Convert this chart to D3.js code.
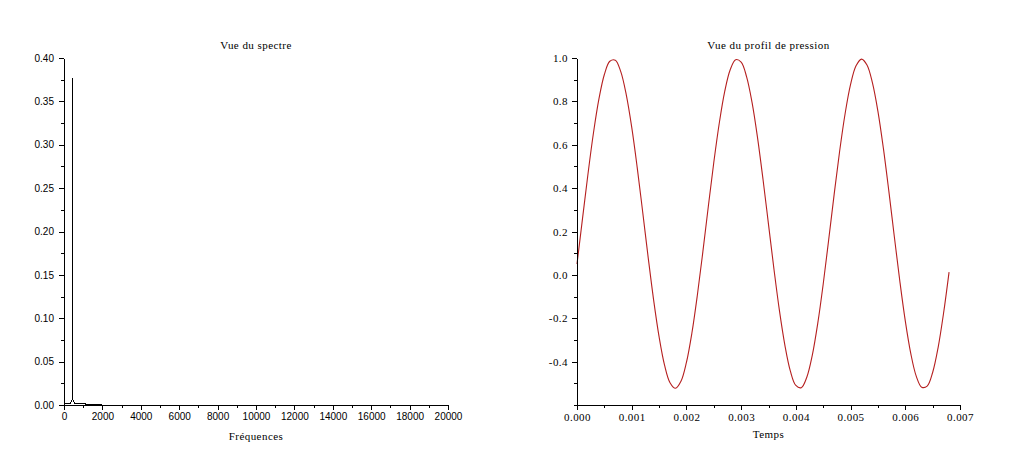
<!DOCTYPE html>
<html>
<head>
<meta charset="utf-8">
<script src="https://cdn.jsdelivr.net/npm/d3@7/dist/d3.min.js"></script>
<style>
  html, body { margin: 0; padding: 0; background: #ffffff; }
  svg { display: block; }
  .serif { font-family: "Liberation Serif", "Times New Roman", serif; font-size: 11px; letter-spacing: 0.45px; fill: #000; }
  .sans { font-family: "Liberation Sans", Arial, sans-serif; font-size: 10px; fill: #000; }
</style>
</head>
<body>
<svg id="chart" width="1024" height="463"></svg>
<script>
// ---------- Data ----------
// Spectrum (left panel)
const specFreq = [0, 100, 200, 300, 380, 430, 440, 450, 500, 560, 650, 800, 1000, 1200, 1400, 1600, 1800, 2000];
const specAmp  = [0.0012, 0.0012, 0.0013, 0.0015, 0.004, 0.0065, 0.377, 0.0065, 0.004, 0.0015, 0.0013, 0.0012, 0.0012, 0.0011, 0.0011, 0.0011, 0.0011, 0.0011];
const specXTicks = [0, 2000, 4000, 6000, 8000, 10000, 12000, 14000, 16000, 18000, 20000];
const specYTicks = [0, 0.05, 0.10, 0.15, 0.20, 0.25, 0.30, 0.35, 0.40];

// Pressure profile (right panel)
const time = [0, 0.0001, 0.0002, 0.0003, 0.0004, 0.0005, 0.0006, 0.0007, 0.0008, 0.0009,
  0.0010, 0.0011, 0.0012, 0.0013, 0.0014, 0.0015, 0.0016, 0.0017, 0.0018, 0.0019,
  0.0020, 0.0021, 0.0022, 0.0023, 0.0024, 0.0025, 0.0026, 0.0027, 0.0028, 0.0029,
  0.0030, 0.0031, 0.0032, 0.0033, 0.0034, 0.0035, 0.0036, 0.0037, 0.0038, 0.0039,
  0.0040, 0.0041, 0.0042, 0.0043, 0.0044, 0.0045, 0.0046, 0.0047, 0.0048, 0.0049,
  0.0050, 0.0051, 0.0052, 0.0053, 0.0054, 0.0055, 0.0056, 0.0057, 0.0058, 0.0059,
  0.0060, 0.0061, 0.0062, 0.0063, 0.0064, 0.0065, 0.0066, 0.0067, 0.0068];
const pressure = [0.050, 0.258, 0.464, 0.653, 0.810, 0.924, 0.985, 0.990, 0.937, 0.831,
  0.681, 0.496, 0.291, 0.082, -0.115, -0.285, -0.416, -0.497, -0.523, -0.491,
  -0.404, -0.268, -0.093, 0.106, 0.315, 0.518, 0.699, 0.846, 0.946, 0.992,
  0.981, 0.913, 0.794, 0.632, 0.440, 0.233, 0.026, -0.165, -0.325, -0.444,
  -0.510, -0.520, -0.472, -0.371, -0.224, -0.042, 0.162, 0.371, 0.570, 0.743,
  0.878, 0.964, 0.995, 0.968, 0.885, 0.754, 0.583, 0.385, 0.176, -0.028,
  -0.212, -0.362, -0.467, -0.518, -0.513, -0.450, -0.335, -0.176, 0.013];
const presXTicks = [0, 0.001, 0.002, 0.003, 0.004, 0.005, 0.006, 0.007];
const presYTicks = [-0.4, -0.2, 0.0, 0.2, 0.4, 0.6, 0.8, 1.0];

const titles = ["Vue du spectre", "Vue du profil de pression"];
const xLabels = ["Fréquences", "Temps"];

// ---------- Drawing ----------
const svg = d3.select("#chart");
const loc = d3.formatLocale({ decimal: ".", thousands: "", grouping: [3], currency: ["", ""], minus: "-" });

function minorTicks(domain, step) {
  const out = [];
  const n = Math.round((domain[1] - domain[0]) / step);
  for (let i = 0; i <= n; i++) out.push(domain[0] + i * step);
  return out;
}

function panel(opts) {
  const g = svg.append("g");
  const x = d3.scaleLinear().domain(opts.xDomain).range(opts.xRange);
  const y = d3.scaleLinear().domain(opts.yDomain).range(opts.yRange);

  // data line
  const line = d3.line().x((d, i) => x(opts.xs[i])).y((d, i) => y(opts.ys[i])).curve(opts.curve);
  g.append("path")
    .datum(opts.ys)
    .attr("d", line)
    .attr("fill", "none")
    .attr("stroke", opts.color)
    .attr("stroke-width", opts.width)
    .attr("shape-rendering", opts.crisp ? "crispEdges" : "auto");

  // minor ticks
  g.append("g")
    .attr("transform", `translate(0,${opts.yRange[0]})`)
    .attr("shape-rendering", "crispEdges")
    .call(d3.axisBottom(x).tickValues(minorTicks(opts.xDomain, opts.xMinor)).tickSize(3).tickSizeOuter(0).tickFormat(""))
    .call(a => a.select(".domain").remove());
  g.append("g")
    .attr("transform", `translate(${opts.xRange[0]},0)`)
    .attr("shape-rendering", "crispEdges")
    .call(d3.axisLeft(y).tickValues(minorTicks(opts.yDomain, opts.yMinor)).tickSize(3).tickSizeOuter(0).tickFormat(""))
    .call(a => a.select(".domain").remove());

  // major axes
  const xa = g.append("g")
    .attr("transform", `translate(0,${opts.yRange[0]})`)
    .attr("shape-rendering", "crispEdges")
    .call(d3.axisBottom(x).tickValues(opts.xTicks).tickSize(5).tickSizeOuter(0).tickPadding(3).tickFormat(opts.xFmt));
  const ya = g.append("g")
    .attr("transform", `translate(${opts.xRange[0]},0)`)
    .attr("shape-rendering", "crispEdges")
    .call(d3.axisLeft(y).tickValues(opts.yTicks).tickSize(5).tickSizeOuter(0).tickPadding(opts.yPad).tickFormat(opts.yFmt));
  [xa, ya].forEach(a => {
    a.attr("font-family", null).attr("font-size", null);
    a.selectAll("path, line").attr("stroke", "#000");
  });
  xa.selectAll("text").attr("class", opts.xTickClass).attr("fill", "#000");
  ya.selectAll("text").attr("class", opts.yTickClass).attr("fill", "#000");

  const cx = (opts.xRange[0] + opts.xRange[1]) / 2;
  g.append("text").attr("class", "serif").attr("x", cx).attr("y", 49)
    .attr("text-anchor", "middle").text(opts.title);
  g.append("text").attr("class", "serif").attr("x", cx).attr("y", opts.xLabelY)
    .attr("text-anchor", "middle").text(opts.xLabel);
}

panel({
  xs: specFreq, ys: specAmp,
  xDomain: [0, 20000], xRange: [64, 448],
  yDomain: [0, 0.4], yRange: [405, 58],
  xTicks: specXTicks, yTicks: specYTicks,
  xMinor: 1000, yMinor: 0.025,
  xFmt: loc.format("d"), yFmt: loc.format(".2f"),
  xTickClass: "sans", yTickClass: "sans", yPad: 5,
  color: "#000", width: 1, crisp: true, curve: d3.curveLinear,
  title: titles[0], xLabel: xLabels[0], xLabelY: 440
});

panel({
  xs: time, ys: pressure,
  xDomain: [0, 0.007], xRange: [577, 960],
  yDomain: [-0.6, 1.0], yRange: [405, 58],
  xTicks: presXTicks, yTicks: presYTicks,
  xMinor: 0.0005, yMinor: 0.1,
  xFmt: loc.format(".3f"), yFmt: loc.format(".1f"),
  xTickClass: "serif", yTickClass: "serif", yPad: 4,
  color: "#b51f1f", width: 1.1, crisp: false, curve: d3.curveCatmullRom,
  title: titles[1], xLabel: xLabels[1], xLabelY: 438
});
</script>
</body>
</html>
